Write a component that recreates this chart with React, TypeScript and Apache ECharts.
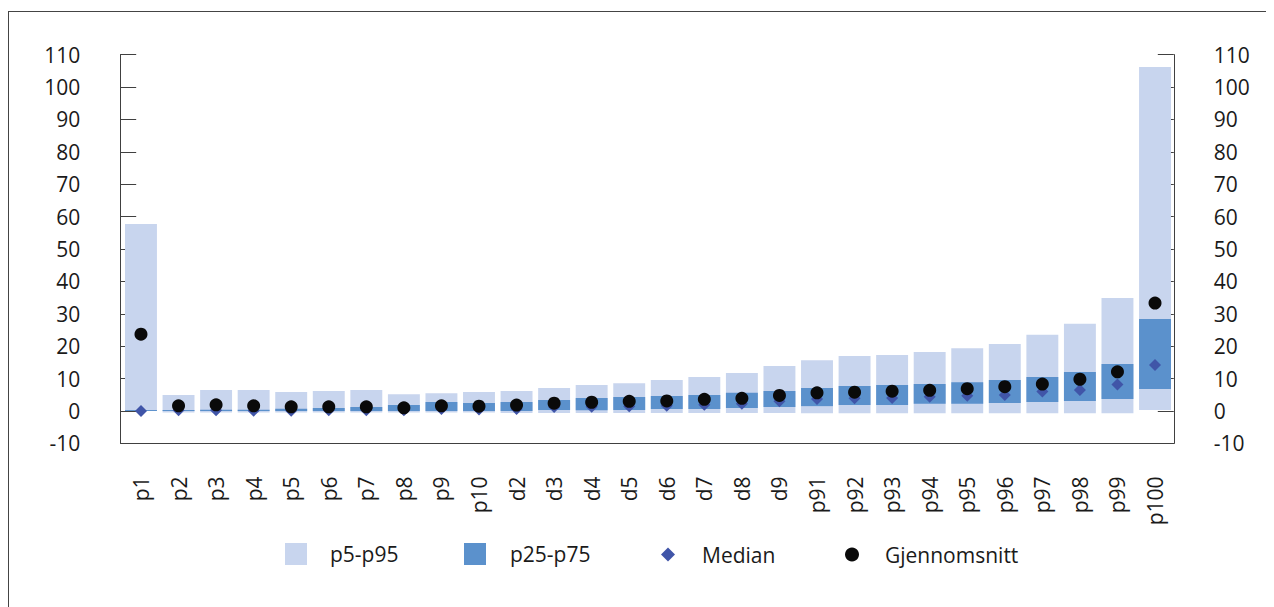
import React, { useEffect, useRef } from "react";
import * as echarts from "echarts";

const categories = [
  "p1", "p2", "p3", "p4", "p5", "p6", "p7", "p8", "p9", "p10",
  "d2", "d3", "d4", "d5", "d6", "d7", "d8", "d9",
  "p91", "p92", "p93", "p94", "p95", "p96", "p97", "p98", "p99", "p100",
];

const p5 = [
  0, -0.5, -0.5, -0.5, -0.5, -0.5, -0.5, -0.5, -0.5, -0.5,
  -0.6, -0.6, -0.6, -0.6, -0.6, -0.6, -0.6, -0.6,
  -0.7, -0.7, -0.7, -0.7, -0.7, -0.7, -0.7, -0.7, -0.7, 0.3,
];
const p95 = [
  57.7, 4.9, 6.5, 6.5, 5.9, 6.2, 6.5, 5.2, 5.5, 5.9,
  6.2, 7.1, 8.0, 8.6, 9.6, 10.5, 11.7, 13.9,
  15.7, 17.0, 17.3, 18.2, 19.4, 20.7, 23.5, 26.9, 34.9, 106.2,
];
const p25 = [
  0, 0, 0, 0, 0, 0, 0, 0, 0, 0,
  0, 0.3, 0.2, 0.3, 0.6, 0.6, 0.9, 1.2,
  1.5, 1.85, 1.85, 2.2, 2.2, 2.5, 2.8, 3.1, 3.7, 6.8,
];
const p75 = [
  0.3, 0.3, 0.4, 0.4, 0.7, 0.9, 1.2, 1.85, 2.8, 2.5,
  2.8, 3.4, 4.0, 4.3, 4.6, 4.9, 5.6, 6.2,
  7.1, 7.7, 8.0, 8.3, 8.9, 9.6, 10.5, 12.0, 14.5, 28.4,
];
const median = [
  0, 0.2, 0.2, 0.1, 0.1, 0.2, 0.2, 0.2, 0.6, 0.5,
  0.6, 1.2, 1.3, 1.5, 1.6, 1.9, 2.2, 3.0,
  3.7, 3.9, 4.0, 4.4, 4.7, 4.9, 6.0, 6.5, 8.2, 14.2,
];
const mean = [
  23.7, 1.6, 1.9, 1.6, 1.3, 1.3, 1.3, 1.0, 1.6, 1.5,
  1.85, 2.4, 2.7, 3.0, 3.1, 3.6, 3.9, 4.8,
  5.6, 5.8, 6.1, 6.4, 6.9, 7.5, 8.3, 9.8, 12.1, 33.3,
];

const FONT = "'Open Sans', 'Noto Sans', sans-serif";
const FS = 21;
const LIGHT = "#c8d5ee";
const DARK = "#5b91cc";
const DIAMOND = "#4055a8";
const DOT = "#0a0a0a";
const AXIS = "#404040";
const TEXT = "#1a1a1a";

function rangeRender(params: any, api: any) {
  const x = api.value(0);
  const lo = api.coord([x, api.value(1)]);
  const hi = api.coord([x, api.value(2)]);
  const w = api.size([1, 0])[0] * 0.85;
  return {
    type: "rect",
    shape: { x: lo[0] - w / 2, y: hi[1], width: w, height: lo[1] - hi[1] },
    style: { fill: api.visual("color") },
  };
}

export default function App() {
  const ref = useRef<HTMLDivElement>(null);
  useEffect(() => {
    if (!ref.current) return;
    document.documentElement.style.overflow = "hidden";
    document.body.style.overflow = "hidden";
    const chart = echarts.init(ref.current, null, { renderer: "svg" });
    const legendBase = {
      orient: "horizontal",
      padding: 0,
      itemGap: 0,
      selectedMode: false,
      textStyle: { fontSize: FS, color: TEXT, fontFamily: FONT },
    };
    chart.setOption({
      animation: false,
      textStyle: { fontFamily: FONT },
      grid: { left: 113.2, top: 42.6, width: 1051.6, height: 388.8 },
      legend: [
        { ...legendBase, left: 276, top: 531, itemWidth: 22, itemHeight: 22, icon: "rect",
          textStyle: { ...legendBase.textStyle, padding: [0, 0, 0, 18] }, data: ["p5-p95"] },
        { ...legendBase, left: 455, top: 531, itemWidth: 22, itemHeight: 22, icon: "rect",
          textStyle: { ...legendBase.textStyle, padding: [0, 0, 0, 19] }, data: ["p25-p75"] },
        { ...legendBase, left: 652, top: 532, itemWidth: 14, itemHeight: 14,
          textStyle: { ...legendBase.textStyle, padding: [0, 0, 0, 22] }, data: [{ name: "Median", icon: "diamond" }] },
        { ...legendBase, left: 836, top: 532, itemWidth: 14, itemHeight: 14,
          textStyle: { ...legendBase.textStyle, padding: [0, 0, 0, 21] }, data: [{ name: "Gjennomsnitt", icon: "circle" }] },
      ],
      xAxis: {
        type: "category",
        data: categories,
        axisLine: { show: true, onZero: false, lineStyle: { color: AXIS, width: 1 } },
        axisTick: { show: false },
        splitLine: { show: false },
        axisLabel: { rotate: 90, margin: 33, fontSize: FS, color: TEXT, fontFamily: FONT, interval: 0 },
      },
      yAxis: [
        {
          type: "value", min: -10, max: 110, interval: 10, position: "left", offset: 2,
          axisLine: { show: true, lineStyle: { color: AXIS } },
          axisTick: { show: true, inside: true, length: 16, lineStyle: { color: AXIS } },
          splitLine: { show: false },
          axisLabel: { margin: 40, fontSize: FS, color: TEXT, fontFamily: FONT },
        },
        {
          type: "value", min: -10, max: 110, interval: 10, position: "right",
          axisLine: { show: true, lineStyle: { color: AXIS } },
          axisTick: { show: true, inside: true, length: 16, lineStyle: { color: AXIS } },
          splitLine: { show: false },
          axisLabel: { margin: 40, fontSize: FS, color: TEXT, fontFamily: FONT },
        },
      ],
      series: [
        {
          name: "p5-p95",
          type: "custom",
          renderItem: rangeRender,
          itemStyle: { color: LIGHT },
          encode: { x: 0, y: [1, 2] },
          data: categories.map((_, i) => [i, p5[i], p95[i]]),
          z: 2,
        },
        {
          name: "p25-p75",
          type: "custom",
          renderItem: rangeRender,
          itemStyle: { color: DARK },
          encode: { x: 0, y: [1, 2] },
          data: categories.map((_, i) => [i, p25[i], p75[i]]),
          z: 3,
        },
        {
          name: "Median",
          type: "scatter",
          symbol: "diamond",
          symbolSize: 12,
          itemStyle: { color: DIAMOND, opacity: 1 },
          data: median,
          z: 4,
        },
        {
          name: "Gjennomsnitt",
          type: "scatter",
          symbol: "circle",
          symbolSize: 13,
          itemStyle: { color: DOT, opacity: 1 },
          data: mean,
          z: 5,
        },
      ],
    });
    return () => chart.dispose();
  }, []);

  return (
    <div
      style={{
        position: "relative",
        top: 3,
        width: 1266,
        height: 610,
        boxSizing: "border-box",
        borderLeft: "1px solid #444",
        borderTop: "1px solid #444",
      }}
    >
      <div ref={ref} style={{ width: 1265, height: 587 }} />
    </div>
  );
}
